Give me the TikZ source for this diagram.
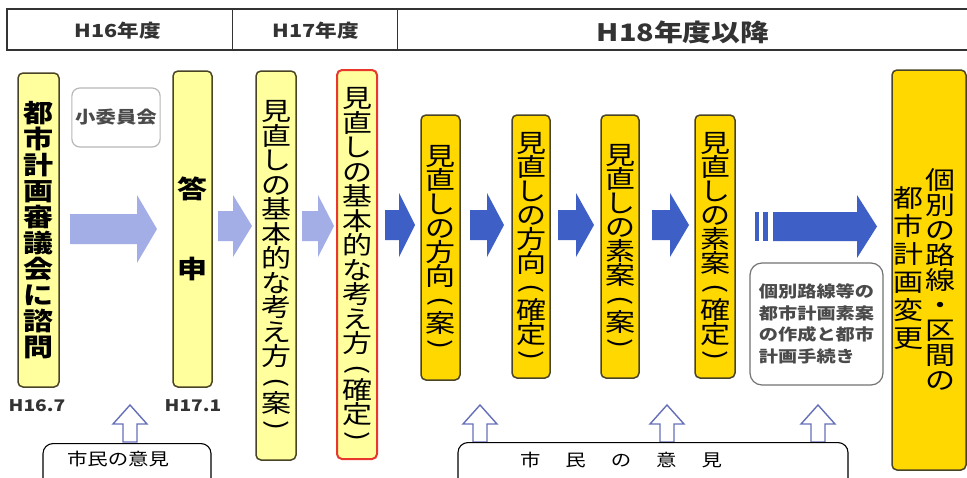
\documentclass[tikz,border=0pt]{standalone}
\usepackage{fontspec}
\usepackage{graphicx}
\setmainfont{Noto Sans CJK JP}[FakeStretch=1.2]
\definecolor{paleyel}{HTML}{FFFF9E}
\definecolor{brightyel}{HTML}{FFD800}
\definecolor{boxline}{HTML}{4A4426}
\definecolor{redline}{HTML}{E8372C}
\definecolor{lightarr}{HTML}{A3AEE6}
\definecolor{darkarr}{HTML}{3D5FC6}
\definecolor{uparr}{HTML}{6670B8}
\definecolor{txtgray}{HTML}{4A4A4A}
\definecolor{hdrline}{HTML}{333333}
\newcommand\blkarrow[7]{% colour, x body start, x head start, x tip, y centre, body half, head half
  \fill[#1] (#2,{#5-#6}) -- (#3,{#5-#6}) -- (#3,{#5-#7}) -- (#4,#5) -- (#3,{#5+#7}) -- (#3,{#5+#6}) -- (#2,{#5+#6}) -- cycle;}
\newcommand\hollowup[1]{% x centre
  \draw[uparr, line width=1.4pt, fill=white, line join=miter] (#1,405) -- ({#1+17},424) -- ({#1+7},424) -- ({#1+7},442) -- ({#1-7},442) -- ({#1-7},424) -- ({#1-17},424) -- cycle;}
\newcommand\po{\raisebox{4pt}{\rotatebox{-90}{(}}}
\newcommand\pc{\raisebox{4pt}{\rotatebox{-90}{)}}}
\begin{document}
\begin{tikzpicture}[x=1pt,y=-1pt,
  vbox/.style={draw=boxline, line width=1.5pt, rounded corners=5pt, inner sep=0pt, align=center, text=black},
  pale/.style={vbox, fill=paleyel},
  bright/.style={vbox, fill=brightyel},
  vt/.style={font=\fontsize{25}{#1}\selectfont},
  hdr/.style={font=\bfseries\fontsize{18}{18}\selectfont, text=hdrline},
  datelbl/.style={font=\bfseries\fontsize{16}{16}\selectfont, text=hdrline},
  citbox/.style={draw=black, line width=1.1pt, rounded corners=10pt, fill=white, anchor=north, minimum height=80pt, inner sep=0pt},
  cittxt/.style={font=\fontsize{17}{17}\selectfont}
]
\useasboundingbox (0,0) rectangle (967,477);
\fill[white] (0,0) rectangle (967,477);

% header bar
\draw[hdrline, line width=1.5pt] (7,9) rectangle (980,50);
\draw[hdrline, line width=1pt] (232,9) -- (232,50);
\draw[hdrline, line width=1pt] (397,9) -- (397,50);
\node[hdr] (h16) at (118,31) {H16年度};
\node[hdr] (h17) at (316,31) {H17年度};
\node[hdr, font=\bfseries\fontsize{24}{24}\selectfont] (h18) at (683,32) {H18年度以降};

% block arrows
\blkarrow{lightarr}{70}{137}{157}{229}{15}{34}
\blkarrow{lightarr}{218}{233}{252}{226}{15}{31}
\blkarrow{lightarr}{302}{318}{334}{226}{15}{31}
\blkarrow{darkarr}{385}{399}{415}{225}{15}{32}
\blkarrow{darkarr}{470}{487}{504}{225}{15}{32}
\blkarrow{darkarr}{558}{576}{594}{225}{15}{32}
\blkarrow{darkarr}{652}{670}{689}{225}{15}{32}
\fill[darkarr] (755,212) rectangle (759,241);
\fill[darkarr] (763,212) rectangle (768,241);
\blkarrow{darkarr}{773}{857}{877}{226.5}{14.5}{31.5}

% small boxes
\node[draw=black!28, line width=1.2pt, rounded corners=8pt, fill=white, minimum width=88pt, minimum height=59pt,
      font=\bfseries\fontsize{17}{17}\selectfont, text=txtgray] (sub) at (116,117.5) {小委員会};
\node[draw=black!55, line width=1.2pt, rounded corners=12pt, fill=white, minimum width=133pt, minimum height=122pt,
      align=left, font=\bfseries\fontsize{16}{21.5}\selectfont, text=txtgray] (indiv) at (816.5,324)
      {個別路線等の\\都市計画素案\\の作成と都市\\計画手続き};

% vertical boxes
\node[pale, minimum width=41pt, minimum height=314pt, font=\bfseries\fontsize{25}{26}\selectfont] (b1) at (38.5,230)
  {都\\市\\計\\画\\審\\議\\会\\に\\諮\\問};
\node[pale, minimum width=39pt, minimum height=316pt, font=\bfseries\fontsize{25}{80}\selectfont] (b2) at (192.5,229)
  {答\\申};
\node[pale, minimum width=40pt, minimum height=389pt, vt=24.5] (b3) at (276,265.5)
  {見\\直\\し\\の\\基\\本\\的\\な\\考\\え\\方\\[-9pt]\po\\[3pt]案\\[-13pt]\pc};
\node[vbox, draw=redline, line width=2pt, fill=paleyel, minimum width=40pt, minimum height=389pt, vt=24.5] (b4) at (357,264.5)
  {見\\直\\し\\の\\基\\本\\的\\な\\考\\え\\方\\[-9pt]\po\\[3pt]確\\定\\[-13pt]\pc};
\node[bright, minimum width=39pt, minimum height=265pt, vt=24] (b5) at (440.5,247.5)
  {見\\直\\し\\の\\方\\向\\[-9pt]\po\\[3pt]案\\[-13pt]\pc};
\node[bright, minimum width=38pt, minimum height=263pt, vt=24] (b6) at (531,246.5)
  {見\\直\\し\\の\\方\\向\\[-9pt]\po\\[3pt]確\\定\\[-13pt]\pc};
\node[bright, minimum width=38pt, minimum height=263pt, vt=24] (b7) at (620,246.5)
  {見\\直\\し\\の\\素\\案\\[-9pt]\po\\[3pt]案\\[-13pt]\pc};
\node[bright, minimum width=40pt, minimum height=263pt, vt=24] (b8) at (715,246.5)
  {見\\直\\し\\の\\素\\案\\[-9pt]\po\\[3pt]確\\定\\[-13pt]\pc};
\node[bright, minimum width=74pt, minimum height=400pt] (b9) at (929,270) {};
\node[align=center, font=\fontsize{25}{25}\selectfont] (b9r) at (940,279)
  {個\\別\\の\\路\\線\\・\\区\\間\\の};
\node[align=center, font=\fontsize{25}{28}\selectfont] (b9l) at (908,268)
  {都\\市\\計\\画\\変\\更};

% dates
\node[datelbl] (d1) at (37,406) {H16.7};
\node[datelbl] (d2) at (193,406) {H17.1};

% citizens' opinion
\hollowup{130}
\hollowup{480}
\hollowup{667}
\hollowup{818}
\node[citbox, minimum width=168pt] (cit1) at (127,443) {};
\node[citbox, minimum width=390pt] (cit2) at (653,442) {};
\node[cittxt] (cit1t) at (118,459) {市民の意見};
\node[cittxt] (cit2t) at (621,460) {市\hspace{25pt}民\hspace{25pt}の\hspace{25pt}意\hspace{25pt}見};
\end{tikzpicture}
\end{document}
